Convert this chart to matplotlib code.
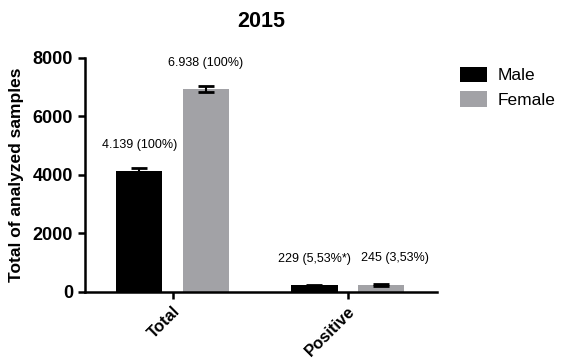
import matplotlib.pyplot as plt
import numpy as np

plt.rcParams['font.family'] = ['Liberation Sans', 'DejaVu Sans']

categories = ['Total', 'Positive']
male = [4139, 229]
female = [6938, 245]
male_err = [90, 15]
female_err = [110, 25]
male_labels = ['4.139 (100%)', '229 (5,53%*)']
female_labels = ['6.938 (100%)', '245 (3,53%)']

fig = plt.figure(figsize=(5.61, 3.58), dpi=100)
ax = fig.add_axes([0.1515, 0.1844, 0.6275, 0.6536])

x = np.arange(len(categories))
w = 0.265
off = 0.19
ax.bar(x - off, male, w, color='black', label='Male')
ax.bar(x + off, female, w, color='#a2a2a6', label='Female')
ax.errorbar(x - off, male, yerr=male_err, fmt='none', ecolor='black',
            elinewidth=1.5, capsize=6, capthick=2)
ax.errorbar(x + off, female, yerr=female_err, fmt='none', ecolor='black',
            elinewidth=1.5, capsize=6, capthick=2)

# value labels above bars
shifts = [0, 10]
for i in range(len(categories)):
    ax.annotate(male_labels[i], (x[i] - off, male[i]), xytext=(0, 19),
                textcoords='offset points', ha='center', va='center', fontsize=9)
    ax.annotate(female_labels[i], (x[i] + off, female[i]), xytext=(shifts[i], 19),
                textcoords='offset points', ha='center', va='center', fontsize=9)

ax.set_xlim(-0.5, 1.51)
ax.set_ylim(0, 8000)
ax.set_yticks([0, 2000, 4000, 6000, 8000])
ax.set_xticks(x)
ax.set_xticklabels(categories, rotation=45, ha='right', rotation_mode='anchor',
                   fontweight='bold', fontsize=12)
for lab in ax.get_yticklabels():
    lab.set_fontweight('bold')
    lab.set_fontsize(13)
ax.set_ylabel('Total of analyzed samples', fontweight='bold', fontsize=12.5, labelpad=6)
ax.set_title('2015', fontweight='bold', fontsize=15.5, pad=22)

for s in ['top', 'right']:
    ax.spines[s].set_visible(False)
for s in ['left', 'bottom']:
    ax.spines[s].set_linewidth(1.8)
ax.tick_params(width=1.8, length=5)

ax.legend(loc='upper left', bbox_to_anchor=(1.02, 1.03), frameon=False,
          fontsize=12.5, handlelength=1.6, handleheight=1.0, handletextpad=0.6,
          labelspacing=0.45)

fig.savefig('out.png', dpi=100)
